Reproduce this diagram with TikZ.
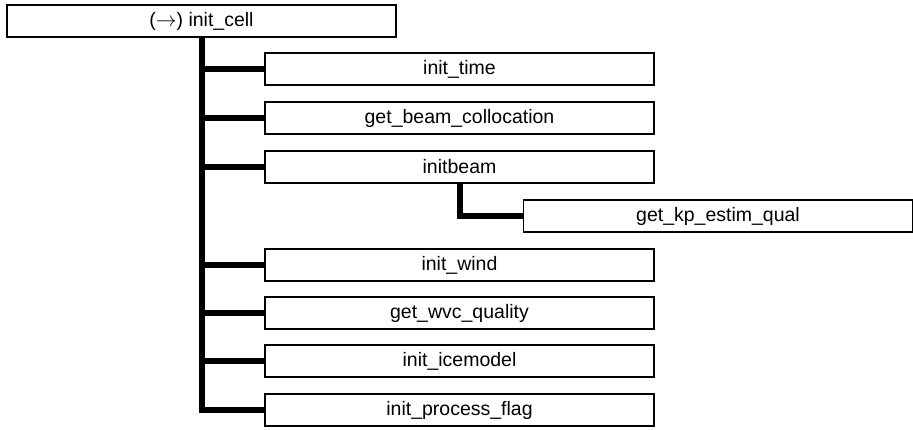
\documentclass[tikz,border=0pt]{standalone}
\usepackage{fontspec}
\setmainfont{Liberation Sans}
\begin{document}
\begin{tikzpicture}[x=1pt,y=-1pt,
  callbox/.style={draw=black, fill=white, line width=1.3pt, rectangle,
    minimum width=389pt, minimum height=32pt, inner sep=0pt,
    font=\fontsize{19.5}{22}\selectfont},
  link/.style={draw=black, line width=6pt, line join=miter}]
\useasboundingbox (0,0) rectangle (913,430);
% caller
\node[callbox] (root) at (201.5,21) {($\rightarrow$) init\_cell};
% callees
\node[callbox] (time)  at (459.5,69)  {init\_time};
\node[callbox] (coll)  at (459.5,118) {get\_beam\_collocation};
\node[callbox] (beam)  at (459.5,167) {initbeam};
\node[callbox] (kp)    at (718,216)   {get\_kp\_estim\_qual};
\node[callbox] (wind)  at (459.5,265) {init\_wind};
\node[callbox] (wvc)   at (459.5,313) {get\_wvc\_quality};
\node[callbox] (ice)   at (459.5,361) {init\_icemodel};
\node[callbox] (flag)  at (459.5,410) {init\_process\_flag};
% call tree
\foreach \c in {time,coll,beam,wind,wvc,ice,flag}
  \draw[link] (root.south) |- (\c.west);
\draw[link] (beam.south) |- (kp.west);
\end{tikzpicture}
\end{document}
